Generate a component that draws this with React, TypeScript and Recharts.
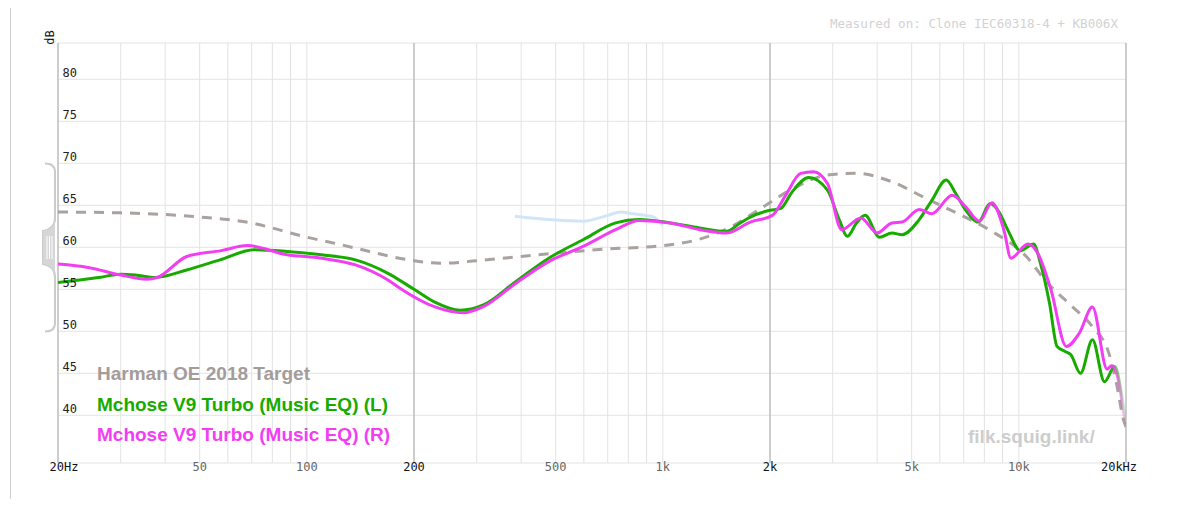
import { LineChart, Line, XAxis, YAxis, CartesianGrid, ReferenceLine } from 'recharts'

// frequency grid and labels
const X_GRID = [
  20, 30, 40, 50, 60, 70, 80, 90, 100,
  200, 300, 400, 500, 600, 700, 800, 900, 1000,
  2000, 3000, 4000, 5000, 6000, 7000, 8000, 9000, 10000, 20000,
]
const X_LABELS: Record<number, string> = {
  20: '20Hz', 50: '50', 100: '100', 200: '200', 500: '500',
  1000: '1k', 2000: '2k', 5000: '5k', 10000: '10k', 20000: '20kHz',
}
const X_DARK = [20, 200, 2000, 20000]
const Y_TICKS = [40, 45, 50, 55, 60, 65, 70, 75, 80]

// Harman OE 2018 Target
const TARGET_F = [20, 30, 40, 50, 60, 70, 80, 90, 100, 125, 150, 200, 240, 300, 400, 500, 700, 1000, 1250, 1550, 1880, 2300, 2900, 3500, 4400, 5500, 6900, 8400, 10500, 12000, 14000, 16200, 17900, 18800, 19700, 20000]
const TARGET_DB = [64.2, 64.1, 63.9, 63.6, 63.3, 62.9, 62.3, 61.7, 61.2, 60.3, 59.5, 58.4, 58.1, 58.4, 58.9, 59.3, 59.8, 60.2, 60.9, 62.4, 64.6, 66.9, 68.6, 68.8, 67.8, 65.8, 63.8, 61.9, 58.9, 55.8, 53.1, 50.4, 47.4, 43.8, 39.4, 38.6]

// Mchose V9 Turbo (Music EQ) (L)
const LEFT_F = [20, 26, 30, 33, 37.5, 46, 57, 71, 88, 110, 137, 169, 200, 228, 270, 312, 386, 478, 597, 737, 858, 1050, 1270, 1510, 1650, 1760, 2000, 2140, 2300, 2570, 2900, 3130, 3300, 3500, 3700, 4060, 4400, 4700, 5250, 5700, 6250, 6650, 7100, 7700, 8300, 8800, 9300, 10100, 11000, 11500, 12200, 12800, 13500, 14000, 14900, 16100, 17400, 18600, 19700, 20000]
const LEFT_DB = [55.8, 56.4, 56.8, 56.7, 56.4, 57.3, 58.5, 59.7, 59.5, 59.1, 58.5, 56.9, 55.0, 53.5, 52.5, 53.1, 55.9, 58.7, 60.9, 62.9, 63.3, 62.9, 62.3, 61.9, 62.9, 63.6, 64.4, 64.6, 66.5, 68.3, 66.8, 63.3, 61.3, 62.9, 63.8, 61.2, 61.7, 61.5, 63.3, 65.6, 68.0, 66.4, 64.4, 63.0, 65.2, 64.2, 62.1, 59.6, 60.4, 58.1, 53.3, 48.2, 47.6, 47.2, 45.0, 49.0, 44.0, 45.8, 41.0, 39.4]

// Mchose V9 Turbo (Music EQ) (R)
const RIGHT_F = [20, 24.3, 30, 35.5, 38, 46, 57.5, 68, 88, 110, 137, 169, 183, 229, 275, 312, 386, 478, 597, 737, 858, 1050, 1270, 1510, 1760, 2030, 2200, 2440, 2650, 2900, 3180, 3600, 4000, 4400, 4700, 5250, 5700, 6500, 7100, 7750, 8400, 9100, 9500, 10600, 11300, 12300, 13600, 14800, 16100, 17700, 18200, 18600, 19200, 19700, 20000]
const RIGHT_DB = [58.0, 57.6, 56.7, 56.2, 56.4, 58.9, 59.6, 60.2, 59.1, 58.7, 57.9, 56.1, 55.1, 52.9, 52.2, 52.9, 55.7, 58.3, 60.1, 62.1, 63.2, 62.9, 62.1, 61.7, 63.0, 63.8, 66.0, 68.8, 69.0, 67.6, 62.1, 63.5, 61.7, 62.9, 63.0, 64.5, 64.0, 66.2, 64.8, 63.1, 65.3, 61.9, 58.7, 60.4, 59.3, 55.0, 48.2, 49.8, 52.9, 45.5, 45.9, 45.5, 43.4, 40.2, 39.0]

// faint light-blue trace in the mids
const FAINT_F = [384, 478, 597, 700, 760, 820, 940, 1000]
const FAINT_DB = [63.7, 63.3, 63.1, 63.8, 64.2, 64.0, 63.6, 62.6]

const zip = (f: number[], db: number[]) => f.map((v, i) => ({ f: v, db: db[i] }))

const targetData = zip(TARGET_F, TARGET_DB)
const leftData = zip(LEFT_F, LEFT_DB)
const rightData = zip(RIGHT_F, RIGHT_DB)
const faintData = zip(FAINT_F, FAINT_DB)

const GREEN = '#17ab00'
const MAGENTA = '#f23ef2'
const TARGET = '#aaa29f'
const MONO = '"DejaVu Sans Mono", monospace'
const SANS = '"Liberation Sans", Arial, sans-serif'

function XTick(props: any) {
  const { x, y, payload } = props
  const label = X_LABELS[payload.value]
  if (!label) return null
  const dark = X_DARK.includes(payload.value)
  const dx = payload.value === 20 ? 6 : payload.value === 20000 ? -7 : 0
  return (
    <text x={x + dx} y={y + 7.5} textAnchor="middle" fontFamily={MONO} fontSize={12}
      fill={dark ? '#111' : '#666'}>
      {label}
    </text>
  )
}

function YTick(props: any) {
  const { x, y, payload } = props
  return (
    <text x={x + 4.5} y={y - 2} textAnchor="start" fontFamily={MONO} fontSize={12} fill="#222">
      {payload.value}
    </text>
  )
}

export default function App() {
  return (
    <div style={{ position: 'relative', width: 1180, height: 507, margin: -8, background: '#fff', overflow: 'hidden' }}>
      {/* page frame */}
      <div style={{ position: 'absolute', left: 10, top: 0, width: 1, height: 504, background: '#cdcdcd' }} />
      <div style={{ position: 'absolute', left: 10, top: 503, width: 1163, height: 1, background: '#d8d8d8' }} />
      <div style={{ position: 'absolute', left: 0, top: 504, width: 1180, height: 3, background: '#f1f1f1' }} />
      <div style={{ position: 'absolute', left: 1173, top: 0, width: 7, height: 507, background: '#e2e2e2' }} />

      <div style={{ position: 'absolute', left: 0, top: 0 }}>
        <LineChart width={1180} height={507} margin={{ top: 43, right: 54, bottom: 14, left: 57 }}>
          <defs>
            <linearGradient id="fadeL" x1="0" y1="0" x2="1" y2="0">
              <stop offset="0.985" stopColor={GREEN} stopOpacity={1} />
              <stop offset="1" stopColor={GREEN} stopOpacity={0.1} />
            </linearGradient>
            <linearGradient id="fadeR" x1="0" y1="0" x2="1" y2="0">
              <stop offset="0.985" stopColor={MAGENTA} stopOpacity={1} />
              <stop offset="1" stopColor={MAGENTA} stopOpacity={0.1} />
            </linearGradient>
          </defs>
          <CartesianGrid stroke="#e3e3e3" strokeWidth={1} />
          <XAxis dataKey="f" type="number" scale="log" domain={[20, 20000]} ticks={X_GRID}
            interval={0} allowDataOverflow axisLine={false} tickLine={false}
            tickSize={0} tickMargin={0} height={30} tick={<XTick />} />
          <YAxis type="number" domain={[34.32, 84.32]} ticks={Y_TICKS} interval={0}
            allowDataOverflow width={1} axisLine={false} tickLine={false}
            tickSize={0} tickMargin={0} tick={<YTick />} />
          {X_DARK.map(f => (
            <ReferenceLine key={f} x={f} stroke="#c0c0c0" strokeWidth={1.5} />
          ))}
          <Line data={faintData} dataKey="db" type="monotone" stroke="#d2e5f8" strokeWidth={3}
            dot={false} isAnimationActive={false} />
          <Line data={targetData} dataKey="db" type="monotone" stroke={TARGET} strokeWidth={3}
            strokeDasharray="10 8" dot={false} isAnimationActive={false} />
          <Line data={leftData} dataKey="db" type="monotone" stroke="url(#fadeL)" strokeWidth={3}
            dot={false} isAnimationActive={false} />
          <Line data={rightData} dataKey="db" type="monotone" stroke="url(#fadeR)" strokeWidth={3}
            dot={false} isAnimationActive={false} />
        </LineChart>
      </div>

      <svg width={1180} height={507} style={{ position: 'absolute', left: 0, top: 0, pointerEvents: 'none' }}>
        {/* normalisation bracket on the left */}
        <path d="M45 163.5 Q55 163.5 55 172 L55 218 Q55 229 43 231 L43 264 Q55 266 55 277 L55 323 Q55 331.5 45 331.5"
          fill="none" stroke="#cbcbcb" strokeWidth={2} />
        <path d="M55 218 Q55 229 43 231 L43 264 Q55 266 55 277 Z" fill="#d6d6d6" />
        <line x1={47} y1={236} x2={47} y2={259} stroke="#fff" strokeWidth={1} />
        <line x1={49.5} y1={236} x2={49.5} y2={259} stroke="#fff" strokeWidth={1} />
        <line x1={52} y1={236} x2={52} y2={259} stroke="#fff" strokeWidth={1} />

        <text x={54} y={37.5} transform="rotate(-90 54 37.5)" textAnchor="middle" fontFamily={MONO}
          fontSize={12} fill="#111">dB</text>

        <text x={1118} y={27.5} textAnchor="end" fontFamily={MONO} fontSize={12.6} fill="#d2d2d2">
          Measured on: Clone IEC60318-4 + KB006X
        </text>

        <text x={97} y={380} fontFamily={SANS} fontWeight="bold" fontSize={19} fill="#a39c99">
          Harman OE 2018 Target
        </text>
        <text x={97} y={410.5} fontFamily={SANS} fontWeight="bold" fontSize={19} fill={GREEN}>
          Mchose V9 Turbo (Music EQ) (L)
        </text>
        <text x={97} y={440.5} fontFamily={SANS} fontWeight="bold" fontSize={19} fill={MAGENTA}>
          Mchose V9 Turbo (Music EQ) (R)
        </text>

        <text x={968} y={443} fontFamily={SANS} fontWeight="bold" fontSize={19} fill="#cdcdcd">
          filk.squig.link/
        </text>
      </svg>
    </div>
  )
}
